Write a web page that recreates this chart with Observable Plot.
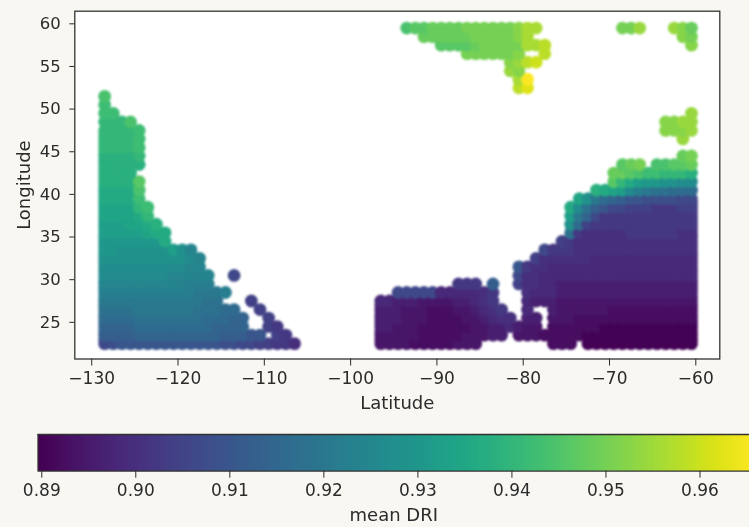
<!DOCTYPE html>
<html>
<head>
<meta charset="utf-8">
<script src="https://cdn.jsdelivr.net/npm/d3@7"></script>
<script src="https://cdn.jsdelivr.net/npm/@observablehq/plot@0.6"></script>
<style>
html,body{margin:0;padding:0;background:#f8f7f2;width:749px;height:527px;overflow:hidden}
svg{display:block;background:transparent!important;filter:blur(.5px)}
svg g[aria-label="dot"]{filter:blur(.8px)}
svg g[aria-label="x-axis label"],svg g[aria-label="y-axis label"]{font-size:18px}
svg g[aria-label="x-axis tick label"]{font-size:17px}
</style>
</head>
<body>
<div id="chart"></div>
<script>
// mean DRI per char: char index i in levelChars => 0.890 + 0.002*i
const levelChars = "0123456789abcdefghijklmnopqrstuvwxyzABC";
const xTicks = [-130,-120,-110,-100,-90,-80,-70,-60];
const yTicks = [25,30,35,40,45,50,55,60];
const barTicks = [0.89,0.90,0.91,0.92,0.93,0.94,0.95,0.96];
const colorDomain = [0.8896,0.96585];

// half-degree cells along the outer edges: [lon, first lat, values going north]
const edgeLons = [-128.5,-60.5,-96.5];
const edgeLat0 = [23,23,23];
const edgeCells = ["bcdefghiijkkllmmnnooooppp","00011222333445566","23344"];

// West coast block
const westLats = [22.5,23.5,24.5,25.5,26.5,27.5,28.5,29.5,30.5,31.5,32.5,33.5,34.5,35.5,36.5,37.5,38.5,39.5,40.5,41.5,42.5,43.5,44.5,45.5,46.5,47.5,48.5,49.5,50.5,51.5];
const westCells = [
"89aaaaaaaaaaaa998877665",
"bbbbccccccccccbbbaa 76",
"ccccdddddddddcccc  76",
"ddddeeeeeeeedddcc  7",
"eeeefffffffeeedd  7",
"ffffffffffffee   7",
"gggggggggggfffg",
"hhhhhhhhhhggg",
"iiiiiiiihhhhh  8",
"iiiiiiiiiihh",
"jjjjjjjjjjih",
"kkjjjjjjljh",
"kkkkkkkn",
"lllllmnn",
"lllmmno",
"mmmmnp",
"mmmmpq",
"nnnnq",
"nnnnr",
"oooos",
"oooo",
"ooooo",
"oooop",
"ppppq",
"ppppq",
"ppppq",
"pppr",
"qq",
"q",
"r"];

// South-east / Atlantic block
const eastLats = [22.5,22.5,23.5,24.5,25.5,26.5,27.5,28.5,29.5,29.5,30.5,31.5,32.5,33.5,34.5,35.5,36.5,37.5,38.5,39.5,40.5,41.5,42.5,43.5,44.5,46.5,47.5,48.5,49.5];
const eastLons = [-96.5,-76.5,-96.5,-96.5,-96.5,-96.5,-96.5,-94.5,-87.5,-80.5,-80.5,-80.5,-78.5,-77.5,-75.5,-74.5,-74.5,-74.5,-74.5,-73.5,-71.5,-69.5,-69.5,-68.5,-61.5,-61.5,-63.5,-63.5,-60.5];
const eastCells = [
"222211111222",
"111 0000000000000",
"222221111122233 222111110000000000000",
"3322211111122334322 11111100000000000",
"3332221111223455 33 22211111111111111",
"333222111223456  4  32222221111111111",
"44333222233456   43332222222222222222",
"888884444456   54443333333333333333",
"666 b",
"755443333333333333333",
"855444444444444444444",
"a65544444444444444444",
"7555555444444444444",
"866655555555555555",
"7655555555555555",
"e65555566666655",
"jd7666666666666",
"lfc866666666666",
"nieba8877766677",
"mjfdcbaa999988",
"onmligfeeddd",
"spnlkkjjii",
"ttsrqqpppo",
"stu rrsst",
"tu",
"w",
"vvvw",
"vvww",
"w"];

// Northern block
const northLats = [52.5,53.5,54.5,55.5,56.5,57.5,57.5,58.5,58.5,59.5,59.5,59.5];
const northLons = [-80.5,-80.5,-81.5,-81.5,-86.5,-89.5,-60.5,-91.5,-61.5,-93.5,-68.5,-62.5];
const northCells = [
"yA","xC","wv","vwyz",
"uuuuuuv  y",
"sssstuuuuuxxy","v",
"ttttttuuuuuvx","vu",
"rssttttuuuuuuvxx","uuw","wvt"];

const level = c => 0.89 + 0.002 * levelChars.indexOf(c);
const points = [];
edgeLons.forEach((lon,k) => Array.from(edgeCells[k]).forEach((c,i) => points.push({lon, lat:edgeLat0[k]+i, v:level(c)})));
const addRows = (lats, lons, cells) => lats.forEach((lat,k) => Array.from(cells[k]).forEach((c,i) => {
  if (c !== " ") points.push({lon:lons[k]+i, lat, v:level(c)});
}));
addRows(westLats, westLats.map(() => -128.5), westCells);
addRows(eastLats, eastLons, eastCells);
addRows(northLats, northLons, northCells);

const font = "'DejaVu Sans'";
const ink = "#2b2b2b";
const minus = d => String(d).replace("-", "\u2212");
const color = {type:"linear", scheme:"viridis", domain:colorDomain};

const main = Plot.plot({
  width:749, height:420,
  marginLeft:74.3, marginRight:29.7, marginTop:10.7, marginBottom:61.5,
  style:{fontFamily:font, fontSize:"16.5px", color:ink, background:"transparent"},
  x:{domain:[-131.96,-57.22]},
  y:{domain:[20.7,61.48]},
  color,
  marks:[
    Plot.frame({fill:"white", stroke:"none"}),
    Plot.dot(points,{x:"lon", y:"lat", fill:"v", r:6.4}),
    Plot.frame({stroke:"#333", strokeWidth:1.3}),
    Plot.axisX({ticks:xTicks, tickFormat:minus, tickSize:7, tickPadding:6, label:"Latitude", labelAnchor:"center", labelArrow:"none", labelOffset:50, stroke:ink}),
    Plot.axisY({ticks:yTicks, tickSize:5, tickPadding:9, label:"Longitude", labelAnchor:"center", labelArrow:"none", labelOffset:58, stroke:ink})
  ]
});

const barStops = d3.range(colorDomain[0], colorDomain[1], 0.0004);
const bar = Plot.plot({
  width:749, height:107,
  marginLeft:37.5, marginRight:0, marginTop:14, marginBottom:56.3,
  style:{fontFamily:font, fontSize:"16.5px", color:ink, background:"transparent"},
  x:{domain:colorDomain, range:[37.5,754.5]},
  y:{domain:[0,1], axis:null},
  color,
  marks:[
    Plot.rect(barStops,{x1:d=>d, x2:d=>d+0.00045, y1:0, y2:1, fill:d=>d, shapeRendering:"crispEdges"}),
    Plot.ruleY([0,1],{stroke:"#333", strokeWidth:1.3}),
    Plot.ruleX([colorDomain[0]],{stroke:"#333", strokeWidth:1.3}),
    Plot.axisX({ticks:barTicks, tickFormat:d3.format(".2f"), tickSize:7, tickPadding:6, label:"mean DRI", labelAnchor:"center", labelArrow:"none", labelOffset:50, stroke:ink})
  ]
});

const host = document.getElementById("chart");
host.appendChild(main);
host.appendChild(bar);
</script>
</body>
</html>
